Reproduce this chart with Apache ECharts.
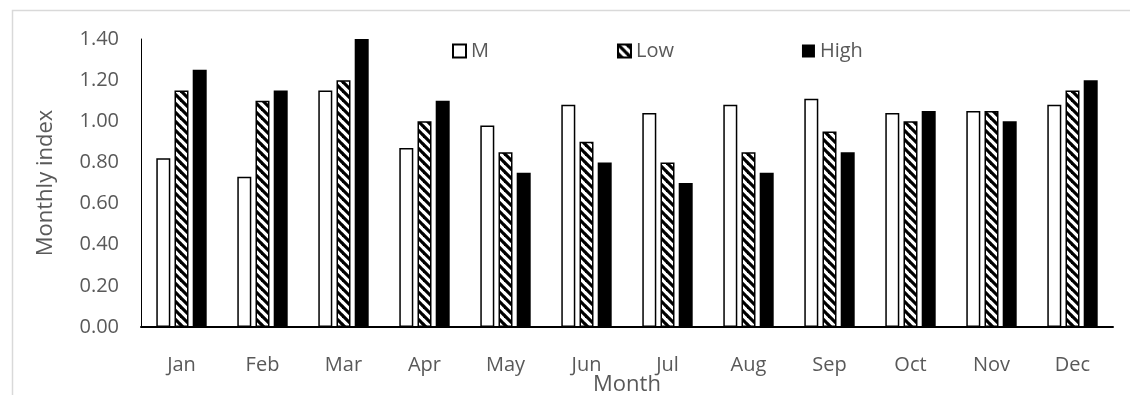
<!DOCTYPE html>
<html>
<head>
<meta charset="utf-8">
<script src="https://cdn.jsdelivr.net/npm/echarts@6/dist/echarts.min.js"></script>
<style>
  html, body { margin: 0; padding: 0; background: #fff; }
  #chart { width: 1130px; height: 395px; }
</style>
</head>
<body>
<div id="chart"></div>
<script>
// Monthly index by month for three series
const months = ['Jan', 'Feb', 'Mar', 'Apr', 'May', 'Jun', 'Jul', 'Aug', 'Sep', 'Oct', 'Nov', 'Dec'];
const seriesNames = ['M', 'Low', 'High'];
const valuesM = [0.82, 0.73, 1.15, 0.87, 0.98, 1.08, 1.04, 1.08, 1.11, 1.04, 1.05, 1.08];
const valuesLow = [1.15, 1.10, 1.20, 1.00, 0.85, 0.90, 0.80, 0.85, 0.95, 1.00, 1.05, 1.15];
const valuesHigh = [1.25, 1.15, 1.40, 1.10, 0.75, 0.80, 0.70, 0.75, 0.85, 1.05, 1.00, 1.20];
const yTicks = [0, 0.2, 0.4, 0.6, 0.8, 1.0, 1.2, 1.4];

const textColor = '#595959';
const fontFamily = '"Open Sans", "Liberation Sans", sans-serif';

// Diagonal stripe pattern ("\" direction) used to fill the Low series
function makeStripePattern() {
  const p = 9;
  const c = document.createElement('canvas');
  c.width = p; c.height = p;
  const ctx = c.getContext('2d');
  ctx.fillStyle = '#ffffff';
  ctx.fillRect(0, 0, p, p);
  ctx.strokeStyle = '#000000';
  ctx.lineWidth = 3.2;
  for (let k = -1; k <= 1; k++) {
    ctx.beginPath();
    ctx.moveTo(k * p - 1, -1);
    ctx.lineTo(k * p + p + 1, p + 1);
    ctx.stroke();
  }
  return c;
}
const stripes = makeStripePattern();

const chart = echarts.init(document.getElementById('chart'), null, { renderer: 'canvas' });

chart.setOption({
  backgroundColor: '#ffffff',
  animation: false,
  textStyle: { fontFamily: fontFamily, color: textColor },
  graphic: [{
    type: 'rect',
    left: 10, top: 8,
    shape: { x: 0, y: 0, width: 1300, height: 500 },
    style: { fill: 'none', stroke: '#d9d9d9', lineWidth: 1.5 },
    silent: true,
    z: -10
  }],
  legend: {
    left: 447,
    top: 36,
    itemGap: 128,
    itemWidth: 13,
    itemHeight: 13,
    icon: 'rect',
    data: seriesNames,
    textStyle: { fontSize: 20, color: textColor, fontFamily: fontFamily }
  },
  grid: { left: 141, right: 17, top: 39, bottom: 68, containLabel: false, outerBoundsMode: 'none' },
  xAxis: {
    type: 'category',
    data: months,
    name: 'Month',
    nameLocation: 'middle',
    nameGap: 47,
    nameMoveOverlap: false,
    nameTextStyle: { fontSize: 22, color: textColor, fontFamily: fontFamily },
    axisLine: { lineStyle: { color: '#000', width: 2 } },
    axisTick: { show: false },
    axisLabel: { fontSize: 20, color: textColor, margin: 28, fontFamily: fontFamily },
    splitLine: { show: false }
  },
  yAxis: {
    type: 'value',
    min: yTicks[0],
    max: yTicks[yTicks.length - 1],
    interval: 0.2,
    name: 'Monthly index',
    nameLocation: 'middle',
    nameGap: 84,
    nameMoveOverlap: false,
    nameTextStyle: { fontSize: 22, color: textColor, fontFamily: fontFamily },
    axisLine: { show: true, lineStyle: { color: '#000', width: 1 } },
    axisTick: { show: false },
    splitLine: { show: false },
    axisLabel: {
      fontSize: 20, color: textColor, margin: 22, fontFamily: fontFamily,
      formatter: v => v.toFixed(2)
    }
  },
  series: [
    {
      name: seriesNames[0], type: 'bar', data: valuesM,
      barWidth: 14, barGap: '30%',
      itemStyle: { color: '#ffffff', borderColor: '#000', borderWidth: 1.5 }
    },
    {
      name: seriesNames[1], type: 'bar', data: valuesLow,
      barWidth: 14, barGap: '30%',
      itemStyle: { color: { image: stripes, repeat: 'repeat' }, borderColor: '#000', borderWidth: 1.5 }
    },
    {
      name: seriesNames[2], type: 'bar', data: valuesHigh,
      barWidth: 14, barGap: '30%',
      itemStyle: { color: '#000000' }
    }
  ]
});
</script>
</body>
</html>
